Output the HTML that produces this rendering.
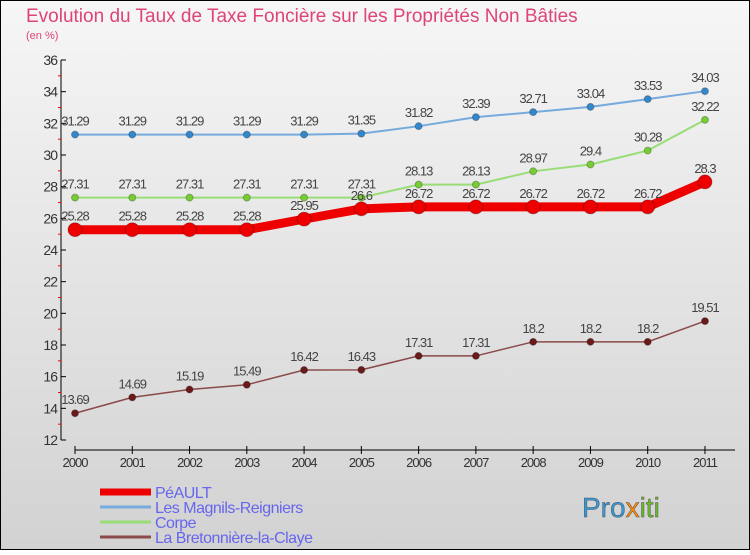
<!DOCTYPE html>
<html><head><meta charset="utf-8"><style>
body{margin:0;}
#c{width:750px;height:550px;}
text{font-family:"Liberation Sans","DejaVu Sans",sans-serif;}
</style></head><body>
<div id="c">
<svg id="s" width="750" height="550" xmlns="http://www.w3.org/2000/svg">
<defs><linearGradient id="bg" x1="0" y1="0" x2="0" y2="1"><stop offset="0" stop-color="#f6f6f6"/><stop offset="1" stop-color="#d2d2d2"/></linearGradient></defs>
<rect x="0.5" y="0.5" width="749" height="549" fill="url(#bg)" stroke="#000"/>
<text x="26" y="22" font-size="19" fill="#dd4477">Evolution du Taux de Taxe Foncière sur les Propriétés Non Bâties</text>
<text x="26" y="39" font-size="11" fill="#dd4477">(en %)</text>
<g id="axes"></g><g id="series"></g><g id="legend"></g>
<text x="582" y="517" font-size="28" fill="#3399dd" stroke="#555" stroke-width="0.5">Pro<tspan fill="#ff8800">x</tspan><tspan fill="#66bb22">iti</tspan></text>
</svg></div>
<script>
const years=[2000,2001,2002,2003,2004,2005,2006,2007,2008,2009,2010,2011];
const yTicks=[12,14,16,18,20,22,24,26,28,30,32,34,36];
const peault=[25.28,25.28,25.28,25.28,25.95,26.6,26.72,26.72,26.72,26.72,26.72,28.3];
const magnils=[31.29,31.29,31.29,31.29,31.29,31.35,31.82,32.39,32.71,33.04,33.53,34.03];
const corpe=[27.31,27.31,27.31,27.31,27.31,27.31,28.13,28.13,28.97,29.4,30.28,32.22];
const breton=[13.69,14.69,15.19,15.49,16.42,16.43,17.31,17.31,18.2,18.2,18.2,19.51];
const NS='http://www.w3.org/2000/svg';
const X=i=>75+i*57.27;
const Y=v=>60+(36-v)*(380/24);
function mk(t,a,p){const e=document.createElementNS(NS,t);for(const k in a)e.setAttribute(k,a[k]);p.appendChild(e);return e;}
const ax=document.getElementById('axes');
let l=mk('line',{x1:61,y1:60,x2:61,y2:440,stroke:'#000'},ax);


yTicks.forEach((v,i)=>{
  mk('line',{x1:61,y1:Y(v),x2:66,y2:Y(v),stroke:'#000'},ax);
  if(i<yTicks.length-1)mk('line',{x1:58,y1:Y(v+1),x2:61,y2:Y(v+1),stroke:'#f00'},ax);
  const t=mk('text',{x:57,y:Y(v)+5,'font-size':14,'text-anchor':'end',fill:'#333','letter-spacing':'-1'},ax);
  t.textContent=v;
  
  
});
l=mk('line',{x1:75,y1:450,x2:735,y2:450,stroke:'#000'},ax);


years.forEach((y,i)=>{
  mk('line',{x1:X(i),y1:446,x2:X(i),y2:454,stroke:'#000'},ax);
  const t=mk('text',{x:X(i),y:467,'font-size':13,'text-anchor':'middle',fill:'#333','letter-spacing':'-1'},ax);
  t.textContent=y;
  
  
});
const sg=document.getElementById('series');
function series(vals,name,col,dot,w,r,labels){
  const g=mk('g',{},sg);
  
  
  const p=mk('polyline',{points:vals.map((v,i)=>X(i)+','+Y(v)).join(' '),fill:'none',stroke:col,'stroke-width':w},g);
  
  
  vals.forEach((v,i)=>{
    const c=mk('circle',{cx:X(i),cy:Y(v),r:r,fill:dot,stroke:'rgba(0,0,0,0.25)'},g);
    
    
    if(labels){
      const t=mk('text',{x:X(i),y:Y(v)-9,'font-size':13,'text-anchor':'middle',fill:'#444','letter-spacing':'-1'},g);
      t.textContent=v;
      
      
    }
  });
}
series(breton,'bretonniere','#8b4a4a','#6b1a1a',1.5,3.5,true);
series(corpe,'corpe','#99dd77','#77cc33',2,3.5,true);
series(magnils,'magnils','#77aadd','#3388cc',2,3.5,true);
series(peault,'peault','#ee0000','#ee0000',9,7,true);
const lg=document.getElementById('legend');
const leg=[['PéAULT','#ee0000',7],['Les Magnils-Reigniers','#77aadd',3],['Corpe','#99dd77',3],['La Bretonnière-la-Claye','#8b4a4a',3]];
leg.forEach((e,i)=>{
  const y=492+i*15;
  const g=mk('g',{},lg);
  
  
  mk('line',{x1:100,y1:y,x2:151,y2:y,stroke:e[1],'stroke-width':e[2]},g);
  const t=mk('text',{x:155,y:y+6,'font-size':16,fill:'#6666ee','letter-spacing':'-0.5'},g);
  t.textContent=e[0];
});
</script>
</body></html>
